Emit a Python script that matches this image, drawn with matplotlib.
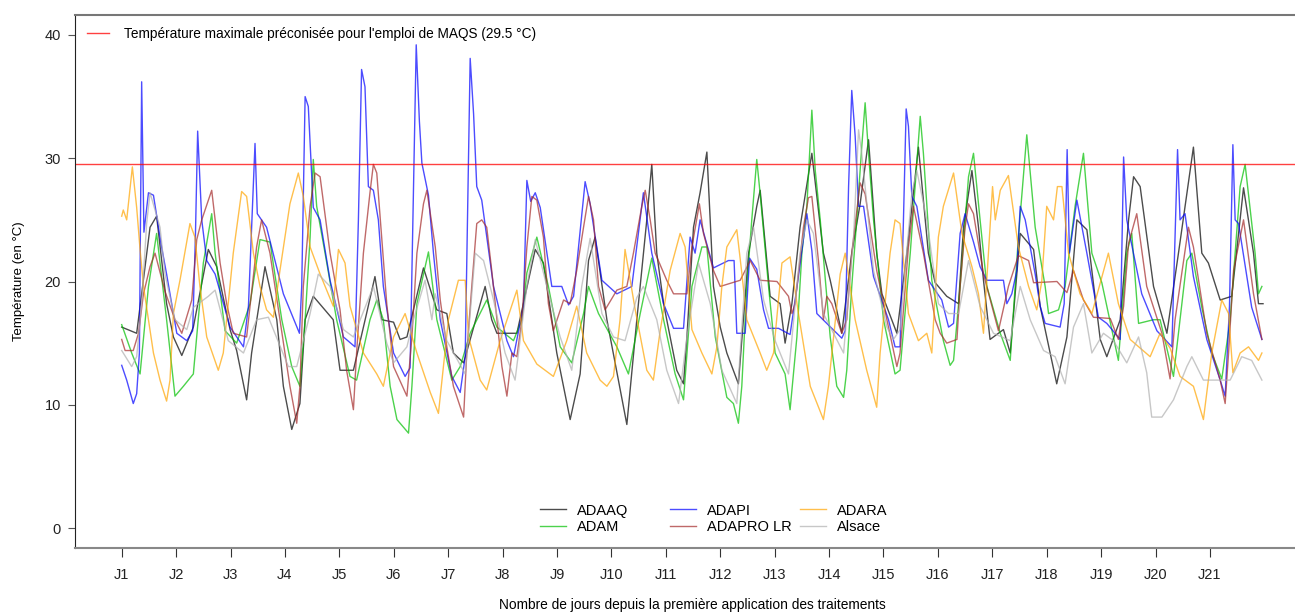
import numpy as np
import matplotlib.pyplot as plt

plt.rcParams['font.family'] = ['Liberation Sans', 'DejaVu Sans']

# Hourly temperatures (hours since first treatment, degC), read at turning points
adaaq = [(0, 16.3), (6.6, 15.8), (12.5, 24.4), (15.4, 25.3), (19.8, 18.2), (22.8, 15.5), (26.5, 14), (31.6, 16.3),
         (38.2, 22.6), (41.9, 21.2), (47.8, 16.1), (50.7, 14.4), (55.1, 10.4), (57.3, 14.2), (63.2, 21.2), (68.4, 16.9),
         (71.3, 11.5), (75, 8), (78.6, 10.1), (80.9, 16.9), (84.5, 18.8), (93.3, 16.9), (96.3, 12.8), (102.2, 12.8),
         (108, 17.4), (111.7, 20.4), (114.7, 16.9), (119.9, 16.7), (122.8, 15.3), (125.8, 15.5), (133.1, 21.1),
         (139, 17.7), (143.4, 17.4), (146.3, 14.2), (150.8, 13.4), (160.3, 19.6), (163.2, 16.9), (165.5, 15.8),
         (174.3, 15.8), (182.4, 22.6), (186, 21.5), (191.9, 14.2), (197.8, 8.8), (202.2, 12.5), (205.9, 21.7),
         (208.8, 23.6), (214, 16.9), (222.8, 8.4), (227.2, 16.9), (231.6, 25), (233.8, 29.5), (236, 22.3), (239, 18.2),
         (244.8, 12.8), (247.8, 11.7), (249.3, 15.5), (252.2, 24.4), (255.1, 27.2), (258.1, 30.5), (261, 19.6),
         (264, 16.3), (266.9, 14.2), (272, 11.7), (276.5, 22.3), (280.1, 26.1), (281.6, 27.4), (286, 18.8),
         (290.4, 18.2), (292.6, 15), (295.6, 18.2), (299.2, 24.4), (304.4, 30.4), (309.5, 22.3), (312.5, 20.1),
         (317.6, 15.8), (322, 22.3), (325.7, 26.3), (329.4, 31.5), (333, 22.3), (335.3, 19), (341.9, 15.8),
         (346.3, 22.3), (351.4, 30.9), (355.8, 22.3), (358.8, 19.9), (363.9, 18.8), (369.1, 18.2), (371.3, 24.4),
         (375, 29), (377.9, 24.4), (380.1, 20.1), (383, 15.3), (388.9, 16.1), (391.9, 14.2), (396.3, 23.9),
         (402.2, 22.6), (405.1, 18), (412.4, 11.7), (416.9, 15.5), (421.3, 25), (425.7, 24.2), (431.6, 15.3),
         (434.5, 13.9), (440.4, 16.9), (444.1, 25), (446.3, 28.5), (449.2, 27.7), (455.1, 19.6), (461, 15.8),
         (466.1, 22.3), (472.7, 30.9), (476.4, 22.3), (479.3, 21.5), (484.5, 18.5), (489.6, 18.8), (494.8, 27.6),
         (499.2, 22.3), (501.4, 18.2), (503.4, 18.2)]

adam = [(0, 16.5), (4.4, 14.2), (8.1, 12.5), (11.8, 19.6), (15.4, 23.9), (19.8, 16.9), (23.5, 10.7), (27.2, 11.5),
        (31.6, 12.5), (36, 21.5), (39.7, 25.5), (41.2, 22.3), (45.6, 16), (50.7, 15), (56.6, 18.2), (61, 23.4),
        (65.4, 23.2), (70.6, 16.9), (75, 13.1), (78.6, 11.5), (80.9, 16.9), (83.1, 23.6), (84.5, 29.9), (86, 26.1),
        (89.7, 22.3), (94.8, 16.9), (100.7, 12.3), (103.6, 12), (109.5, 16.9), (112.5, 18.5), (115.4, 16.9),
        (118.4, 11.5), (121.4, 8.8), (126.5, 7.7), (128, 11.5), (130.2, 18.2), (135.3, 22.4), (139, 16.9),
        (145.6, 12), (149.3, 13.1), (153.7, 15.8), (161, 18.5), (165.5, 16.3), (172.8, 15.2), (176.5, 16.9),
        (178.7, 20.7), (183.1, 23.6), (188.2, 19.6), (193.4, 14.7), (198.5, 13.4), (203.7, 17.4), (205.9, 19.6),
        (210.3, 17.4), (218.4, 14.7), (223.5, 12.5), (228.7, 17.4), (233.8, 21.9), (239, 16.9), (244.1, 12.5),
        (247.8, 10.4), (251.5, 19.6), (255.9, 22.8), (258.1, 22.8), (261.8, 15.5), (266.9, 10.6), (269.8, 10.1),
        (272, 8.5), (273.5, 11.5), (275.7, 19.6), (277.9, 25), (280.1, 29.9), (281.6, 27.1), (285.3, 19.6),
        (288.2, 14.2), (292.6, 12.5), (294.8, 9.6), (297.8, 15.5), (300, 22.3), (302.2, 26.1), (304.4, 33.9),
        (305.9, 29), (308.1, 25), (312.5, 15.5), (315.4, 11.5), (318.4, 10.6), (319.8, 12.8), (322, 19.6),
        (324.2, 25), (326.4, 30.9), (327.9, 34.5), (329.4, 30.4), (331.6, 25), (336, 16.9), (341.1, 12.5),
        (343.3, 12.8), (347.8, 22.3), (352.2, 33.4), (353.6, 30.4), (357.3, 20.1), (362.4, 15.2), (365.4, 13.2),
        (366.9, 13.6), (369.8, 19.6), (373.5, 28.5), (375.7, 30.4), (378.6, 25), (381.6, 19.6), (387.5, 15.8),
        (391.9, 13.6), (395.5, 23.6), (399.2, 31.9), (402.9, 24.4), (407.3, 19.6), (408.8, 17.4), (413.2, 17.7),
        (416.1, 19.6), (420.5, 26.1), (424.2, 30.4), (427.9, 22.3), (432.3, 19.9), (437.4, 15.5), (439.6, 13.6),
        (443.3, 22.3), (445.5, 23.9), (448.5, 16.6), (455.1, 16.9), (458, 16.9), (463.9, 12.3), (469.8, 21.7),
        (472, 22.3), (476.4, 17.9), (480.8, 14.2), (485.2, 12.1), (488.9, 16.9), (493.3, 27.7), (495.5, 29.5),
        (499.9, 22.3), (501.4, 19), (502.9, 19.6)]

adapi = [(0, 13.2), (2.2, 12), (5.1, 10.1), (6.6, 10.9), (7.8, 14.2), (8.8, 36.2), (9.8, 24), (11.8, 27.2), (14, 27),
         (17.6, 22.8), (19.8, 20.6), (24.3, 15.8), (28.7, 15.2), (31.3, 16), (32.5, 23.6), (33.5, 32.2), (35.3, 25),
         (37.5, 21.7), (41.2, 20.6), (47.8, 16.3), (53.7, 14.7), (55.9, 18), (58.8, 31.2), (59.8, 25.5), (63.9, 24.4),
         (71.3, 19), (78.4, 15.8), (79.4, 19.6), (80.9, 35), (82.3, 34.2), (84.5, 26), (87.5, 25), (91.9, 20.1),
         (97.8, 15.5), (102.9, 14.7), (104.4, 25), (105.8, 37.2), (107.3, 35.8), (108.8, 27.7), (111, 27.4),
         (113.2, 25), (115.4, 19.6), (119.9, 14.2), (125, 12.3), (127.2, 13), (129.9, 39.2), (131.3, 33),
         (132.4, 29.6), (135.3, 27), (137.5, 22.3), (140.5, 16.9), (145.6, 12.3), (149.3, 11), (151.5, 13.9),
         (153.7, 38.1), (155.2, 33.6), (156.6, 27.7), (158.8, 26.6), (164, 19.6), (169.9, 15.2), (172.8, 13.9),
         (177.2, 18), (178.7, 28.2), (180.4, 26.5), (182.4, 27.2), (184.6, 26), (189.7, 19.6), (194.1, 19.6),
         (197.1, 18.1), (199.3, 18.8), (204.4, 28.1), (206.6, 26.3), (211.8, 20.1), (218.4, 19), (225, 19.6),
         (230.1, 27.2), (233.8, 22.3), (239, 18.2), (243.4, 16.2), (247.8, 16.2), (250.7, 23.6), (252.9, 22.3),
         (255.1, 25), (261, 21.1), (267.6, 21.7), (270.1, 21.7), (271.3, 15.8), (275, 15.8), (276.9, 21.9),
         (280.1, 21), (283.1, 17.7), (285.3, 16.2), (289.7, 16.2), (294.8, 15.7), (297.8, 19.5), (302.2, 25.5),
         (304.4, 22.5), (306.6, 17.4), (317.6, 15.4), (319.1, 16), (320.6, 27.7), (322, 35.5), (323.5, 31.8),
         (325, 26.1), (327.2, 26.1), (331.6, 20.4), (338.2, 16.9), (341.1, 14.7), (343.3, 14.7), (344.8, 25),
         (346, 34), (347, 32.6), (348.5, 26.9), (350.7, 26.1), (355.8, 20.1), (361.7, 18.5), (364.7, 16.3),
         (366.9, 16.6), (369.8, 23.9), (372, 25.5), (375.7, 23.2), (378.6, 21.2), (381.6, 20.1), (388.9, 20.1),
         (390.4, 18.2), (392.6, 19), (394.8, 20.9), (396.3, 26.1), (398.5, 25), (402.9, 20.6), (405.1, 18),
         (407.3, 16.6), (413.9, 16.3), (415.7, 18.2), (417, 30.7), (418, 22.3), (421.3, 26.6), (425.7, 22.3),
         (430.8, 17.1), (434.5, 16.6), (440.4, 15.3), (441.9, 30.1), (443.3, 25), (444.8, 23.6), (449.9, 19),
         (456.6, 16), (463.2, 14.7), (465.7, 30.7), (466.8, 25), (469, 25.5), (472.7, 20.4), (478.6, 15.3),
         (484.5, 12), (486.7, 10.7), (488.6, 18), (490.1, 31.1), (491.1, 25), (492.6, 24.7), (498.4, 17.9),
         (502.9, 15.3)]

adapro_lr = [(0, 15.3), (1.5, 14.4), (5.1, 14.4), (7.4, 15.8), (9.6, 19), (12.5, 21.2), (14.7, 22.3), (19.1, 19.2),
             (23.5, 16.9), (26.5, 15.8), (30.9, 18.5), (33.1, 23.4), (35.3, 25), (39.7, 27.4), (41.2, 25),
             (43.4, 21.5), (46.3, 18.2), (49.2, 15.8), (55.1, 15.5), (59.5, 22.8), (61.7, 25), (65.4, 22.3),
             (69.8, 16.9), (74.2, 11.5), (77.2, 8.5), (78.6, 11.5), (80.1, 19.6), (83.1, 26.1), (85.3, 28.8),
             (87.5, 28.5), (91.9, 22.3), (96.3, 17.7), (99.2, 12.8), (102.2, 9.6), (103.6, 14.2), (106.6, 22.3),
             (109.5, 27.2), (111, 29.5), (112.5, 28.8), (116.9, 18.2), (119.9, 13.1), (125.8, 10.7), (128, 15.5),
             (130.2, 22.3), (133.1, 26.3), (134.6, 27.4), (138.3, 22.8), (140.5, 18.5), (143.4, 14.7), (146.3, 11.5),
             (150.8, 9), (152.2, 14.2), (154.4, 19.6), (156.6, 24.7), (158.8, 25), (161, 24.4), (163.2, 20.9),
             (165.5, 16.9), (167.7, 13.1), (169.9, 10.7), (172.1, 14.2), (174.3, 13.9), (176.5, 16.9), (178.7, 22.8),
             (180.9, 26.9), (183.1, 26.6), (186, 23.6), (188.2, 18.2), (190.4, 16), (194.9, 18.5), (197.8, 18.2),
             (200.7, 20.9), (203.7, 24.4), (205.9, 26.9), (208.1, 25), (210.3, 19.6), (213.2, 17.7), (218.4, 19.3),
             (222.8, 19.6), (225.7, 22.3), (229.4, 26.1), (230.9, 27.4), (233.1, 25), (235.3, 22.3), (240.4, 20.1),
             (243.4, 19), (249.3, 19), (251.5, 22.8), (254.8, 26.3), (256.6, 23.9), (261, 20.9), (264, 19.6),
             (272.8, 20.1), (277.2, 21.7), (281.6, 20.1), (289, 20), (294.1, 18.8), (295.6, 17.4), (297, 18.2),
             (300.7, 24.4), (302.9, 26.8), (304.4, 26.9), (307.3, 21.7), (309.5, 16.9), (311, 18.8), (313.2, 18.2),
             (317.6, 15.8), (319.8, 16.9), (322, 22.3), (325.7, 28), (327.9, 27.1), (333, 20.9), (337.5, 16.9),
             (341.9, 13.1), (343.3, 14.2), (347, 22.8), (349.2, 26.1), (353.6, 22.3), (358.8, 16.9), (361, 15.8),
             (363.9, 15), (368.4, 15.3), (369.8, 19.6), (372, 24.4), (373.5, 26.3), (375.7, 25.5), (380.1, 20.6),
             (386.7, 16), (391.1, 19.6), (395.5, 22.1), (400, 21.7), (402.2, 19.9), (412.5, 20), (416.9, 19.1),
             (419.8, 20.9), (424.2, 18.5), (428.6, 17.1), (436, 17), (439.6, 15.3), (441.9, 18), (444.1, 23.1),
             (447.7, 25.5), (452.1, 19.6), (458.8, 15.8), (462.4, 12.1), (464.6, 16.9), (470.5, 24.4), (472.7, 22.8),
             (478.6, 15.8), (484.5, 12), (486.7, 10.1), (488.2, 14.2), (490.4, 20.9), (494.8, 25), (499.2, 19),
             (502.9, 15.3)]

adara = [(0, 25.3), (0.7, 25.8), (2.2, 25), (4.7, 29.3), (6.6, 26), (8.1, 22.6), (9.6, 19.6), (11.8, 16.9), (14, 14.2),
         (16.9, 12), (19.8, 10.3), (21.3, 12), (22.8, 17.4), (25.7, 20.1), (30.1, 24.7), (32.3, 23.6), (34.5, 19.6),
         (37.5, 15.5), (42.6, 12.8), (44.8, 14.2), (49.2, 22.3), (52.9, 27.3), (55.1, 26.9), (58.1, 22.3), (61, 19.6),
         (63.9, 17.7), (66.9, 17.1), (69.8, 20.9), (74.2, 26.3), (77.9, 28.8), (80.1, 26.9), (83.1, 22.8),
         (87.5, 20.6), (93.3, 18), (95.6, 22.6), (98.5, 21.5), (100.7, 18), (106.6, 14.2), (112.5, 12.5),
         (115.4, 11.5), (119.9, 15.5), (125, 17.4), (130.2, 14.2), (136.1, 11), (139.7, 9.3), (144.1, 16.9),
         (148.5, 20.1), (151.5, 20.1), (153, 15.5), (158.1, 12), (161, 11.2), (166.9, 15.2), (174.3, 19.3),
         (177.2, 15.2), (183.1, 13.3), (190.4, 12.3), (196.3, 15.2), (200.7, 18), (205.1, 14.2), (211, 12),
         (214, 11.5), (216.9, 12.3), (219.8, 16.9), (222, 22.6), (226.5, 17.7), (231.6, 12.8), (234.5, 12),
         (237.5, 16), (241.9, 20.9), (246.3, 23.9), (248.5, 22.8), (251.5, 16.1), (255.9, 14.2), (260.3, 12.5),
         (262.5, 14.7), (264.7, 19.6), (266.9, 22.8), (271.3, 24.2), (273.5, 20.7), (275.7, 16.9), (281.6, 14.2),
         (284.5, 12.8), (287.5, 14.2), (291.2, 21.5), (294.8, 22), (298.5, 17.4), (303.7, 11.5), (309.5, 8.8),
         (311.7, 11.5), (316.9, 20.6), (319.1, 22.3), (323.5, 16.9), (328.6, 12.8), (333, 9.8), (334.5, 14.2),
         (338.9, 22.3), (341.1, 25), (343.3, 24.7), (347, 17.4), (351.4, 15.2), (355.1, 15.8), (357.3, 14.2),
         (360.2, 23.6), (362.4, 26.1), (366.9, 28.8), (370.6, 23.9), (375, 21.2), (377.9, 19), (380.1, 15.8),
         (384.1, 27.7), (385.3, 25), (387.5, 27.4), (391.1, 28.6), (395.5, 22.8), (400, 19.6), (403.6, 17.7),
         (405.8, 20), (408, 26.1), (411, 25), (412.7, 27.7), (414.7, 27.7), (417.6, 22.3), (422.7, 19),
         (427.9, 17.4), (435.2, 22.3), (439.6, 18.2), (444.8, 15.3), (453.6, 13.9), (458, 15.8), (462.4, 14.6),
         (466.8, 12.3), (472.7, 11.5), (477.1, 8.8), (480.8, 14.2), (485.2, 18.5), (488.2, 17.4), (490.1, 12.6),
         (493.3, 14.2), (497, 14.7), (501.4, 13.6), (502.9, 14.2)]

alsace = [(0, 14.4), (4.4, 13.1), (6.6, 13.9), (8.8, 18.2), (11, 24.7), (12.5, 27.2), (16.9, 24.4), (19.1, 20.6),
          (23.5, 16.9), (28.7, 16.1), (31.6, 17.9), (38.2, 18.8), (41.2, 19.3), (47, 15.2), (53.7, 14.2), (59.5, 16.9),
          (64.7, 17.1), (73.5, 13.1), (77.2, 13.1), (83.1, 17.4), (86.7, 20.6), (91.9, 19.6), (97.8, 16.1),
          (102.2, 15.5), (111, 19.6), (116.9, 15), (119.9, 13.4), (125.8, 14.7), (128.7, 16.9), (133.8, 20.1),
          (136.8, 16.9), (138.3, 19), (143.4, 15.2), (151.5, 12.5), (155.9, 22.3), (159.6, 21.7), (164, 18.5),
          (169.1, 14.2), (173.5, 12), (178.7, 19.6), (182.4, 23.4), (187.5, 19.6), (193.4, 15.5), (198.5, 12.8),
          (202.9, 19.6), (206.6, 23.5), (211.8, 17.4), (216.9, 15.5), (222, 15.2), (227.2, 18.7), (230.1, 19.6),
          (236, 16.9), (240.4, 12.8), (245.6, 10.1), (249.3, 15.5), (254.4, 21.5), (259.6, 18.2), (264.7, 12.8),
          (271.3, 10.1), (275.7, 22.3), (278.7, 24.4), (283.1, 18.5), (288.2, 15.2), (294.1, 12.5), (299.2, 22.3),
          (302.2, 25), (305.1, 23.9), (309.5, 17.4), (318.4, 14.2), (322.8, 23.6), (325, 32.3), (326.4, 30.4),
          (331.6, 20.9), (337.5, 16.3), (340.4, 15.3), (343.3, 16.1), (348.5, 27.2), (350.7, 29), (355.1, 25),
          (360.2, 18.2), (364.7, 17.4), (369.1, 17.4), (373.5, 21.7), (378.6, 18), (384.5, 15.8), (391.9, 15.2),
          (396.3, 19.6), (400.7, 16.9), (406.6, 14.4), (411.7, 13.9), (416.1, 11.7), (419.8, 16.3), (424.2, 18.2),
          (427.9, 14.2), (433, 15.8), (437.4, 15.2), (443.3, 13.4), (448.5, 15.5), (452.1, 12.6), (454.3, 9),
          (458.8, 9), (463.9, 10.4), (469.8, 13.1), (472, 13.9), (477.1, 12), (483, 12), (488.9, 12), (494, 13.9),
          (498.4, 13.6), (502.9, 12)]

series_names = ['ADAAQ', 'ADAM', 'ADAPI', 'ADAPRO LR', 'ADARA', 'Alsace']
series_data = [adaaq, adam, adapi, adapro_lr, adara, alsace]
series_colors = ['black', '#00c000', 'blue', 'brown', 'orange', '#b0b0b0']
day_labels = ['J%d' % (i + 1) for i in range(21)]
seuil = 29.5

fig = plt.figure(figsize=(12.95, 6.15), dpi=100)
ax = fig.add_axes([75 / 1295, 67 / 615, 1 - 75 / 1295, 533 / 615])

lines = []
for name, data, color in zip(series_names, series_data, series_colors):
    h, v = np.array(data).T
    ln, = ax.plot(h, v, color=color, lw=1.0, alpha=0.7, label=name)
    lines.append(ln)

seuil_line = ax.axhline(seuil, color='red', lw=1.0, alpha=0.75)

ax.set_xlim(-20.6, 517.5)
ax.set_ylim(-1.62, 41.62)
ax.set_xticks(np.arange(21) * 24)
ax.set_xticklabels(day_labels)
ax.set_yticks([0, 10, 20, 30, 40])
ax.tick_params(axis='x', length=6.5, pad=8, labelsize=10.5, color='#333333', labelcolor='#222222')
ax.tick_params(axis='y', length=5, pad=5, labelsize=10.5, color='#555555', labelcolor='#222222')
ax.spines['right'].set_visible(False)
ax.spines['left'].set_color('#222222')
ax.spines['top'].set_color('#777777')
ax.spines['bottom'].set_color('#888888')
ax.spines['bottom'].set_linewidth(1.5)
ax.spines['top'].set_linewidth(1.5)

ax.set_ylabel('Température (en °C)', fontsize=9.5, labelpad=14)
ax.set_xlabel('Nombre de jours depuis la première application des traitements', fontsize=9.9)
ax.xaxis.set_label_coords(617 / 1220, -0.094)

leg_top = ax.legend([seuil_line], ['Température maximale préconisée pour l\'emploi de MAQS (29.5 °C)'],
                    loc='upper left', bbox_to_anchor=(0.0, 1.0), frameon=False, fontsize=9.8,
                    handlelength=1.6, handletextpad=1.1)
ax.add_artist(leg_top)

# bottom legend: three columns placed like the original
col_left = [540, 670, 800]
for k, xl in enumerate(col_left):
    pair = lines[2 * k:2 * k + 2]
    leg = ax.legend(pair, [l.get_label() for l in pair], loc='lower left',
                    bbox_to_anchor=((xl - 75) / 1220, 14 / 533), frameon=False, fontsize=10.5,
                    handlelength=1.75, handletextpad=0.8, labelspacing=0.17,
                    borderpad=0, borderaxespad=0)
    if k < len(col_left) - 1:
        ax.add_artist(leg)

fig.savefig('out.png', dpi=100)
